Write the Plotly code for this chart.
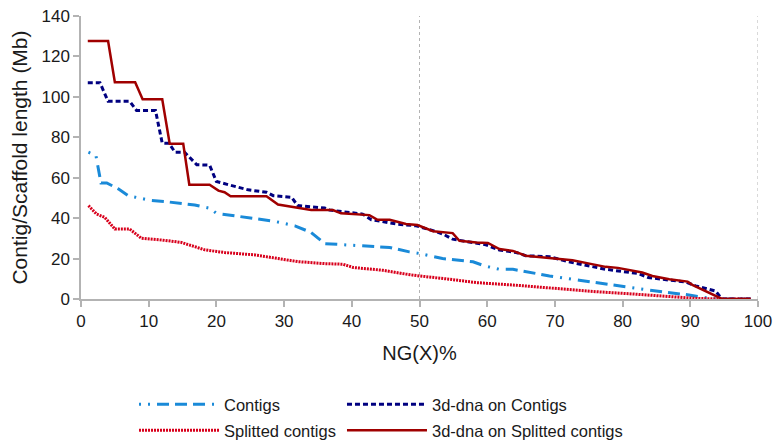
import plotly.graph_objects as go

# Data (x = NG(X) %, y = length in Mb)
contigs_x = [1.1, 2.2, 2.95, 3.8, 5.5, 7.0, 10.4, 12.4, 16.8, 19.0, 20.0, 25.2, 28.6, 31.6, 34.0, 36.0,
             39.7, 45.6, 48.5, 50.0, 53.4, 57.9, 59.6, 61.8, 63.8, 66.2, 69.2, 73.6, 76.1, 80.0,
             83.4, 85.9, 89.8, 92.3, 94.2, 98.9]
contigs_y = [72.6, 71.0, 57.4, 57.4, 54.5, 51.1, 48.7, 48.2, 46.5, 44.9, 42.4, 39.9, 38.4, 36.2, 32.9, 27.4,
             26.8, 25.5, 23.3, 22.5, 20.0, 18.4, 16.4, 14.7, 14.7, 13.1, 11.4, 9.3, 8.1, 6.5,
             4.8, 3.5, 2.0, 0.6, 0.0, 0.0]

dna_contigs_x = [1.0, 2.8, 4.0, 7.2, 8.2, 11.0, 12.0, 13.0, 13.9, 15.3, 17.1, 19.0, 20.0, 22.2, 24.7,
                 27.4, 28.4, 31.1, 32.0, 36.0, 36.7, 41.6, 42.9, 46.6, 49.5, 52.0, 53.5, 54.9,
                 59.8, 61.8, 64.3, 65.7, 69.2, 72.6, 77.5, 82.3, 83.8, 89.3, 90.8, 93.7, 94.7, 98.9]
dna_contigs_y = [107.0, 107.0, 97.8, 97.8, 93.3, 93.3, 77.1, 77.0, 72.6, 72.6, 66.4, 66.2, 58.1, 56.1, 54.0,
                 52.8, 51.1, 50.3, 46.2, 45.0, 44.0, 42.0, 39.2, 37.1, 36.2, 33.8, 32.1, 29.6,
                 26.8, 24.2, 23.0, 21.4, 20.9, 18.0, 14.7, 12.6, 10.6, 8.4, 6.5, 4.0, 0.0, 0.0]

split_x = [1.1, 2.3, 3.5, 5.0, 7.2, 8.9, 12.1, 14.8, 18.3, 21.2, 25.7, 29.6, 32.0, 36.0, 38.7, 40.2,
           44.6, 48.0, 50.0, 54.4, 58.4, 64.3, 69.2, 71.1, 76.1, 81.0, 86.9, 90.8, 94.2, 98.9]
split_y = [46.2, 42.0, 40.4, 34.6, 34.6, 30.1, 29.1, 28.0, 24.3, 23.0, 21.8, 19.7, 18.5, 17.5, 17.2, 15.6,
           14.2, 12.3, 11.4, 9.8, 8.1, 6.8, 5.5, 4.8, 3.6, 2.6, 1.0, 0.3, 0.0, 0.0]

dna_split_x = [1.0, 4.0, 5.0, 8.0, 9.1, 12.0, 13.1, 15.1, 16.0, 19.0, 20.3, 21.2, 22.1, 27.4, 29.1, 31.6,
               34.0, 37.2, 38.4, 42.6, 43.8, 45.6, 48.0, 49.7, 52.0, 54.9, 55.9, 58.4, 60.1, 61.8,
               63.8, 65.7, 69.2, 72.6, 75.1, 77.5, 79.3, 82.9, 84.4, 86.9, 89.6, 90.3, 94.7, 98.9]
dna_split_y = [127.6, 127.6, 107.2, 107.2, 98.8, 98.8, 76.8, 76.8, 56.5, 56.5, 53.6, 52.8, 50.8, 50.8, 46.7, 45.3,
               44.0, 44.0, 42.4, 41.5, 39.2, 39.2, 37.1, 36.6, 33.5, 32.6, 28.8, 28.0, 27.7, 24.7,
               23.8, 21.4, 20.2, 19.2, 17.5, 15.9, 15.4, 13.1, 11.4, 9.8, 8.6, 7.0, 0.0, 0.0]

x_ticks = [0, 10, 20, 30, 40, 50, 60, 70, 80, 90, 100]
y_ticks = [0, 20, 40, 60, 80, 100, 120, 140]
guide_x = [50, 100]

FONT = "Liberation Sans, Arial, sans-serif"

fig = go.Figure()
fig.add_trace(go.Scatter(x=contigs_x, y=contigs_y, mode="lines", name="Contigs", legend="legend",
                         line=dict(color="#1a8ad8", width=3,
                                   dash="2px,7px,2px,7px,12px,6px,12px,6px,12px,7px")))
fig.add_trace(go.Scatter(x=dna_contigs_x, y=dna_contigs_y, mode="lines", name="3d-dna on Contigs",
                         legend="legend2",
                         line=dict(color="#000080", width=3, dash="5px,3px")))
fig.add_trace(go.Scatter(x=split_x, y=split_y, mode="lines", name="Splitted contigs", legend="legend3",
                         line=dict(color="#d8001c", width=3, dash="2px,1px")))
fig.add_trace(go.Scatter(x=dna_split_x, y=dna_split_y, mode="lines", name="3d-dna on Splitted contigs",
                         legend="legend4",
                         line=dict(color="#a00000", width=2.5)))

for gx in guide_x:
    fig.add_shape(type="line", xref="x", yref="y", x0=gx, x1=gx, y0=0, y1=140,
                  line=dict(color="#b3b3b3", width=1, dash="dot"), layer="below")

legend_common = dict(orientation="h", xref="container", yref="container",
                     xanchor="left", yanchor="top", itemwidth=80,
                     font=dict(family=FONT, size=16.5, color="#1a1a1a"),
                     tracegroupgap=0, bgcolor="rgba(0,0,0,0)")
col1_x = 0.1727
col2_x = 0.4407
row1_y = 0.1244
row2_y = 0.0656

fig.update_layout(
    width=776, height=442,
    margin=dict(l=81, r=18, t=16, b=143, autoexpand=False),
    paper_bgcolor="white", plot_bgcolor="white",
    font=dict(family=FONT, size=17, color="#1a1a1a"),
    showlegend=True,
    legend=dict(legend_common, x=col1_x, y=row1_y),
    legend2=dict(legend_common, x=col2_x, y=row1_y),
    legend3=dict(legend_common, x=col1_x, y=row2_y),
    legend4=dict(legend_common, x=col2_x, y=row2_y),
    xaxis=dict(range=[0, 100], tickvals=x_ticks, showgrid=False, zeroline=False,
               showline=True, linecolor="#b3b3b3", linewidth=1.5,
               ticks="outside", ticklen=6, tickcolor="#b3b3b3", tickwidth=1.5,
               title=dict(text="NG(X)%", font=dict(size=20), standoff=16)),
    yaxis=dict(range=[0, 140], tickvals=y_ticks, showgrid=False, zeroline=False,
               showline=True, linecolor="#b3b3b3", linewidth=1.5,
               ticks="outside", ticklen=6, tickcolor="#b3b3b3", tickwidth=1.5,
               title=dict(text="Contig/Scaffold length (Mb)", font=dict(size=21), standoff=8)),
)

fig.write_html("out.html")
